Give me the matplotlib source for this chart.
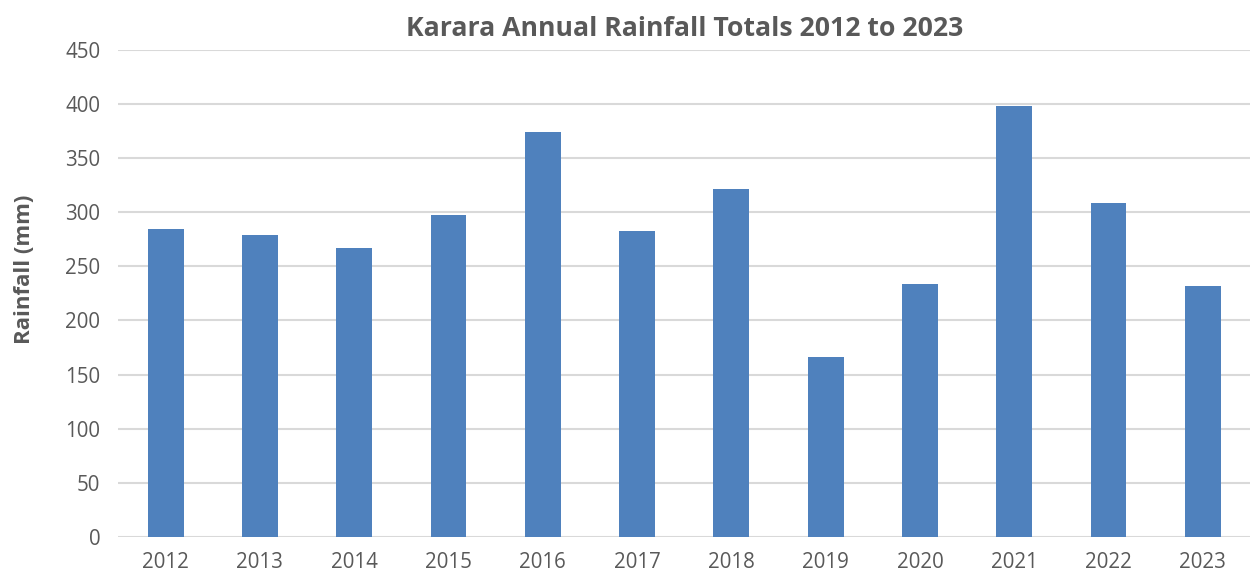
import matplotlib
matplotlib.use('Agg')
import matplotlib.pyplot as plt

years = ['2012', '2013', '2014', '2015', '2016', '2017',
         '2018', '2019', '2020', '2021', '2022', '2023']
rainfall = [284, 279, 267, 297, 374, 283, 321, 166, 234, 398, 308, 232]

plt.rcParams['font.family'] = ['Open Sans', 'DejaVu Sans']

fig = plt.figure(figsize=(12.6, 5.71), dpi=100, facecolor='white')
ax = fig.add_axes([0.094, 0.0595, 0.898, 0.8535])

x = range(len(years))
ax.bar(x, rainfall, width=0.38, color='#4f81bd', zorder=3)

ax.set_xlim(-0.5, len(years) - 0.5)
ax.set_ylim(0, 450)
ax.set_yticks(range(0, 451, 50))
ax.set_xticks(list(x))
ax.set_xticklabels(years)

ax.grid(axis='y', color='#d9d9d9', linewidth=1.5, zorder=0)
for s in ax.spines.values():
    s.set_visible(False)
ax.tick_params(length=0, labelsize=14.8, colors='#595959')
ax.tick_params(axis='x', pad=11)
ax.tick_params(axis='y', pad=13)

ax.set_ylabel('Rainfall (mm)', fontsize=16, fontweight='bold', color='#595959')
ax.yaxis.set_label_coords(-0.074, 0.55)
ax.set_title('Karara Annual Rainfall Totals 2012 to 2023', fontsize=19.2,
             fontweight='bold', color='#595959', pad=10)

fig.savefig('out.png', dpi=100, facecolor='white')
